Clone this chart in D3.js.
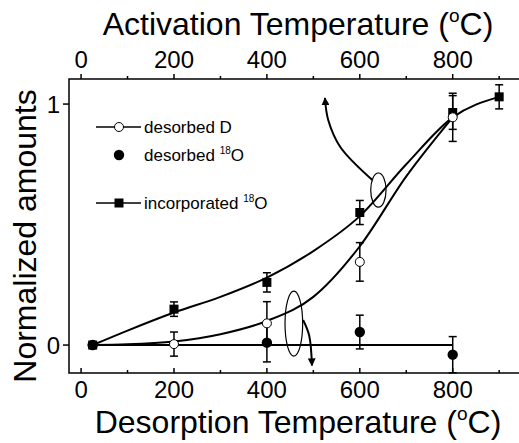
<!DOCTYPE html>
<html>
<head>
<meta charset="utf-8">
<script src="https://cdn.jsdelivr.net/npm/d3@7"></script>
<style>
  body { margin: 0; background: #fff; }
  text { font-family: "Liberation Sans", Arial, sans-serif; fill: #000; }
</style>
</head>
<body>
<div id="chart"></div>
<script>
/*************************************/
/* Data                              */
/*************************************/

// Desorbed D (open circles)
const dTemps = [25, 200, 400, 600, 800];
const dValues = [0, 0.004, 0.09, 0.345, 0.945];
const dErrors = [0, 0.05, 0.09, 0.08, 0.1];

// Desorbed 18O (filled circles)
const oTemps = [25, 400, 600, 800];
const oValues = [0, 0.01, 0.054, -0.04];
const oErrors = [0, 0.08, 0.07, 0.075];

// Incorporated 18O (filled squares)
const iTemps = [25, 200, 400, 600, 800, 900];
const iValues = [0, 0.149, 0.26, 0.55, 0.965, 1.03];
const iErrors = [0, 0.03, 0.04, 0.05, 0.07, 0.05];

// Fitted guide curves
const fitDTemps = [25, 100, 200, 300, 400, 500, 600, 700, 800];
const fitDValues = [0, 0.003, 0.015, 0.045, 0.10, 0.20, 0.41, 0.70, 0.945];
const fitITemps = [25, 100, 200, 300, 400, 500, 600, 700, 800, 900];
const fitIValues = [0, 0.06, 0.135, 0.2, 0.28, 0.39, 0.535, 0.75, 0.945, 1.03];
const baseTemps = [25, 800];
const baseValues = [0, 0];

// Axis ticks
const xTicks = [0, 200, 400, 600, 800];
const xMinorTicks = [100, 300, 500, 700, 900];
const yTicks = [0, 1];

// Annotation ellipses and arrows (data units)
const ellipses = [
  { cx: 458, cy: 0.089, rx: 19, ry: 0.135 },
  { cx: 640, cy: 0.643, rx: 16.5, ry: 0.071 }
];
const arrows = [
  [[478, 0.104], [491, 0.04], [497, -0.085]],
  [[627, 0.685], [558, 0.822], [532, 0.934], [525, 1.025]]
];


/*************************************/
/* Setup                             */
/*************************************/

const width = 519;
const height = 443;

const x = d3.scaleLinear().domain([-26, 947]).range([69, 521]);
const y = d3.scaleLinear().domain([-0.116, 1.104]).range([373, 79]);

const svg = d3.select('#chart')
  .append('svg')
  .attr('width', width)
  .attr('height', height);

// Frame
svg.append('path')
  .attr('d', `M${x.range()[1]},${y.range()[1]}H${x.range()[0]}V${y.range()[0]}H${x.range()[1]}`)
  .attr('fill', 'none')
  .attr('stroke', '#000')
  .attr('stroke-width', 1.5);

// Top axis
svg.selectAll('.top-major')
  .data(xTicks)
  .join('line')
    .attr('x1', d => x(d)).attr('x2', d => x(d))
    .attr('y1', y.range()[1]).attr('y2', y.range()[1] - 5)
    .attr('stroke', '#000').attr('stroke-width', 1.5);
svg.selectAll('.top-minor')
  .data(xMinorTicks)
  .join('line')
    .attr('x1', d => x(d)).attr('x2', d => x(d))
    .attr('y1', y.range()[1]).attr('y2', y.range()[1] - 3)
    .attr('stroke', '#000').attr('stroke-width', 1.5);
svg.selectAll('.top-label')
  .data(xTicks)
  .join('text')
    .attr('x', d => x(d))
    .attr('y', 68)
    .attr('text-anchor', 'middle')
    .attr('font-size', 24)
    .text(d => d);

// Bottom axis
svg.selectAll('.bottom-major')
  .data(xTicks)
  .join('line')
    .attr('x1', d => x(d)).attr('x2', d => x(d))
    .attr('y1', y.range()[0]).attr('y2', y.range()[0] - 5)
    .attr('stroke', '#000').attr('stroke-width', 1.5);
svg.selectAll('.bottom-minor')
  .data(xMinorTicks)
  .join('line')
    .attr('x1', d => x(d)).attr('x2', d => x(d))
    .attr('y1', y.range()[0]).attr('y2', y.range()[0] - 3)
    .attr('stroke', '#000').attr('stroke-width', 1.5);
svg.selectAll('.bottom-label')
  .data(xTicks)
  .join('text')
    .attr('x', d => x(d))
    .attr('y', 398)
    .attr('text-anchor', 'middle')
    .attr('font-size', 24)
    .text(d => d);

// Left axis
svg.selectAll('.left-major')
  .data(yTicks)
  .join('line')
    .attr('x1', x.range()[0]).attr('x2', x.range()[0] - 6)
    .attr('y1', d => y(d)).attr('y2', d => y(d))
    .attr('stroke', '#000').attr('stroke-width', 1.5);
svg.selectAll('.left-label')
  .data(yTicks)
  .join('text')
    .attr('x', 60)
    .attr('y', d => y(d) + 8.5)
    .attr('text-anchor', 'end')
    .attr('font-size', 24)
    .text(d => d);

// Axis titles
const title = (txt, tx, ty) => {
  const t = svg.append('text')
    .attr('x', tx)
    .attr('y', ty)
    .attr('text-anchor', 'middle')
    .attr('font-size', 32);
  t.append('tspan').text(txt + ' (');
  t.append('tspan').attr('font-size', 19).attr('dy', -13).text('o');
  t.append('tspan').attr('dy', 13).text('C)');
};
title('Activation Temperature', 298, 35);
title('Desorption Temperature', 298, 433);

svg.append('text')
  .attr('transform', 'translate(36,236) rotate(-90)')
  .attr('text-anchor', 'middle')
  .attr('font-size', 32)
  .text('Normalized amounts');


/*************************************/
/* Curves                            */
/*************************************/

const line = d3.line()
  .x(d => x(d[0]))
  .y(d => y(d[1]))
  .curve(d3.curveMonotoneX);

[[fitITemps, fitIValues], [fitDTemps, fitDValues], [baseTemps, baseValues]].forEach(([t, v]) => {
  svg.append('path')
    .datum(d3.zip(t, v))
    .attr('d', line)
    .attr('fill', 'none')
    .attr('stroke', '#000')
    .attr('stroke-width', 2);
});


/*************************************/
/* Error bars and markers            */
/*************************************/

const errorBars = (temps, values, errors) => {
  const rows = d3.zip(temps, values, errors).filter(d => d[2] > 0);
  const g = svg.append('g').attr('stroke', '#000').attr('stroke-width', 1.5);
  rows.forEach(([t, v, e]) => {
    const lo = Math.max(v - e, y.domain()[0]);
    g.append('line').attr('x1', x(t)).attr('x2', x(t)).attr('y1', y(lo)).attr('y2', y(v + e));
    g.append('line').attr('x1', x(t) - 4).attr('x2', x(t) + 4).attr('y1', y(v + e)).attr('y2', y(v + e));
    g.append('line').attr('x1', x(t) - 4).attr('x2', x(t) + 4).attr('y1', y(lo)).attr('y2', y(lo));
  });
};

errorBars(iTemps, iValues, iErrors);
errorBars(dTemps, dValues, dErrors);
errorBars(oTemps, oValues, oErrors);

svg.append('g')
  .selectAll('rect')
  .data(d3.zip(iTemps, iValues))
  .join('rect')
    .attr('x', d => x(d[0]) - 4.5)
    .attr('y', d => y(d[1]) - 4.5)
    .attr('width', 9)
    .attr('height', 9)
    .attr('fill', '#000');

svg.append('g')
  .selectAll('circle')
  .data(d3.zip(dTemps, dValues))
  .join('circle')
    .attr('cx', d => x(d[0]))
    .attr('cy', d => y(d[1]))
    .attr('r', 4.5)
    .attr('fill', '#fff')
    .attr('stroke', '#000')
    .attr('stroke-width', 1);

svg.append('g')
  .selectAll('circle')
  .data(d3.zip(oTemps, oValues))
  .join('circle')
    .attr('cx', d => x(d[0]))
    .attr('cy', d => y(d[1]))
    .attr('r', 5.2)
    .attr('fill', '#000');


/*************************************/
/* Annotations                       */
/*************************************/

svg.append('defs').append('marker')
  .attr('id', 'head')
  .attr('viewBox', '0 0 10 10')
  .attr('refX', 9).attr('refY', 5)
  .attr('markerWidth', 4).attr('markerHeight', 4)
  .attr('orient', 'auto')
  .append('path')
    .attr('d', 'M0,0L10,5L0,10Z')
    .attr('fill', '#000');

svg.selectAll('.ell')
  .data(ellipses)
  .join('ellipse')
    .attr('cx', d => x(d.cx))
    .attr('cy', d => y(d.cy))
    .attr('rx', d => x(d.cx + d.rx) - x(d.cx))
    .attr('ry', d => y(d.cy) - y(d.cy + d.ry))
    .attr('fill', 'none')
    .attr('stroke', '#000')
    .attr('stroke-width', 1.2);

const arrowLine = d3.line()
  .x(d => x(d[0]))
  .y(d => y(d[1]))
  .curve(d3.curveCatmullRom);

arrows.forEach(pts => {
  svg.append('path')
    .attr('d', arrowLine(pts))
    .attr('fill', 'none')
    .attr('stroke', '#000')
    .attr('stroke-width', 2)
    .attr('marker-end', 'url(#head)');
});


/*************************************/
/* Legend                            */
/*************************************/

const legend = svg.append('g');
const legendRows = [
  { y: 127, line: true, mark: 'open', label: 'desorbed D', sup: '' },
  { y: 155, line: false, mark: 'filled', label: 'desorbed ', sup: '18', tail: 'O' },
  { y: 203, line: true, mark: 'square', label: 'incorporated ', sup: '18', tail: 'O' }
];
legendRows.forEach(r => {
  if (r.line) {
    legend.append('line')
      .attr('x1', 96).attr('x2', 141)
      .attr('y1', r.y).attr('y2', r.y)
      .attr('stroke', '#000').attr('stroke-width', 1.5);
  }
  if (r.mark === 'open') {
    legend.append('circle').attr('cx', 119).attr('cy', r.y).attr('r', 4.5)
      .attr('fill', '#fff').attr('stroke', '#000').attr('stroke-width', 1);
  } else if (r.mark === 'filled') {
    legend.append('circle').attr('cx', 119).attr('cy', r.y).attr('r', 5.2).attr('fill', '#000');
  } else {
    legend.append('rect').attr('x', 114.5).attr('y', r.y - 4.5)
      .attr('width', 9).attr('height', 9).attr('fill', '#000');
  }
  const t = legend.append('text')
    .attr('x', 144)
    .attr('y', r.y + 6)
    .attr('font-size', 17);
  t.append('tspan').text(r.label);
  if (r.sup) {
    t.append('tspan').attr('font-size', 10).attr('dy', -7).text(r.sup);
    t.append('tspan').attr('dy', 7).text(r.tail);
  }
});
</script>
</body>
</html>
